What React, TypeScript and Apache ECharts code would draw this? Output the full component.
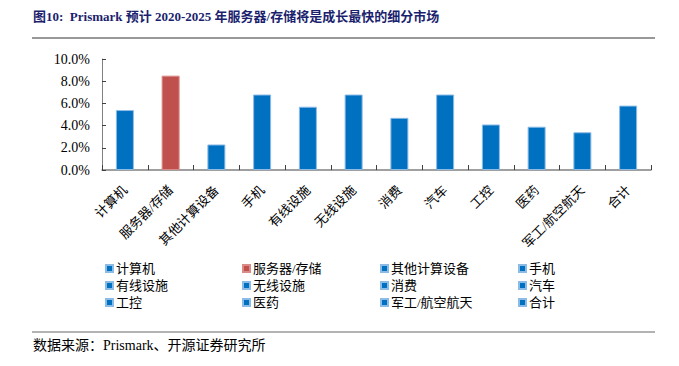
import React, { useEffect, useRef } from "react";
import * as echarts from "echarts";

const categories = ["计算机", "服务器/存储", "其他计算设备", "手机", "有线设施", "无线设施", "消费", "汽车", "工控", "医药", "军工/航空航天", "合计"];
const values = [5.4, 8.5, 2.3, 6.8, 5.7, 6.8, 4.7, 6.8, 4.1, 3.9, 3.4, 5.8];
const colors = ["#0070C0", "#C0504D", "#0070C0", "#0070C0", "#0070C0", "#0070C0", "#0070C0", "#0070C0", "#0070C0", "#0070C0", "#0070C0", "#0070C0"];
const yTicks = [0, 2, 4, 6, 8, 10];
const legendColumns = [
  ["计算机", "有线设施", "工控"],
  ["服务器/存储", "无线设施", "医药"],
  ["其他计算设备", "消费", "军工/航空航天"],
  ["手机", "汽车", "合计"],
];
const legendLefts = [100, 237, 375, 513];
const titleText = "图10:  Prismark 预计 2020-2025 年服务器/存储将是成长最快的细分市场";
const sourceText = "数据来源：Prismark、开源证券研究所";

const FONT = "'Liberation Serif', 'Times New Roman', 'Noto Sans CJK SC', serif";

export default function App() {
  const ref = useRef<HTMLDivElement>(null);
  useEffect(() => {
    if (!ref.current) return;
    const chart = echarts.init(ref.current, undefined, { renderer: "svg" });
    const series = categories.map((name, i) => ({
      name,
      type: "bar",
      stack: "all",
      barWidth: 18,
      data: values.map((v, j) => (j === i ? v : "-")),
      itemStyle: {
        color: colors[i],
        borderColor: i === 1 ? "#d98b88" : "#8cbbe6",
        borderWidth: 1,
      },
    }));
    chart.setOption({
      animation: false,
      textStyle: { fontFamily: FONT },
      grid: { left: 102, right: 28, top: 59, bottom: 196, containLabel: false },
      xAxis: {
        type: "category",
        data: categories,
        axisLine: { lineStyle: { color: "#808080", width: 1.5 } },
        axisTick: { show: true, inside: true, length: 5, alignWithLabel: false, lineStyle: { color: "#404040" } },
        axisLabel: { interval: 0, rotate: 45, fontSize: 13, color: "#000", margin: 18, fontFamily: FONT },
      },
      yAxis: {
        type: "value",
        min: 0,
        max: 10,
        interval: 2,
        splitLine: { show: false },
        axisLine: { show: true, lineStyle: { color: "#808080", width: 1 } },
        axisTick: { show: true, inside: true, length: 4, lineStyle: { color: "#404040" } },
        axisLabel: {
          fontSize: 14,
          color: "#000",
          margin: 12,
          fontFamily: FONT,
          formatter: (v: number) => (yTicks.includes(v) ? v.toFixed(1) + "%" : ""),
        },
      },
      legend: legendColumns.map((col, k) => ({
        orient: "vertical",
        left: legendLefts[k],
        top: 257,
        itemWidth: 7,
        itemHeight: 7,
        itemGap: 4,
        icon: "rect",
        data: col,
        textStyle: { fontSize: 13, color: "#000", fontFamily: FONT, padding: [0, 0, 0, -2] },
      })),
      graphic: [
        {
          type: "text",
          left: 33,
          top: 10,
          style: { text: titleText, font: `bold 13px ${FONT}`, fill: "#1b1f6e" },
        },
        { type: "line", shape: { x1: 32, y1: 38, x2: 655, y2: 38 }, style: { stroke: "#333", lineWidth: 1 } },
        { type: "line", shape: { x1: 32, y1: 332, x2: 655, y2: 332 }, style: { stroke: "#666", lineWidth: 1 } },
        {
          type: "text",
          left: 33,
          top: 338,
          style: { text: sourceText, font: `14px ${FONT}`, fill: "#000" },
        },
      ],
      series,
    });
    return () => chart.dispose();
  }, []);
  return <div ref={ref} style={{ width: 679, height: 366, position: "absolute", left: 0, top: 0 }} />;
}
